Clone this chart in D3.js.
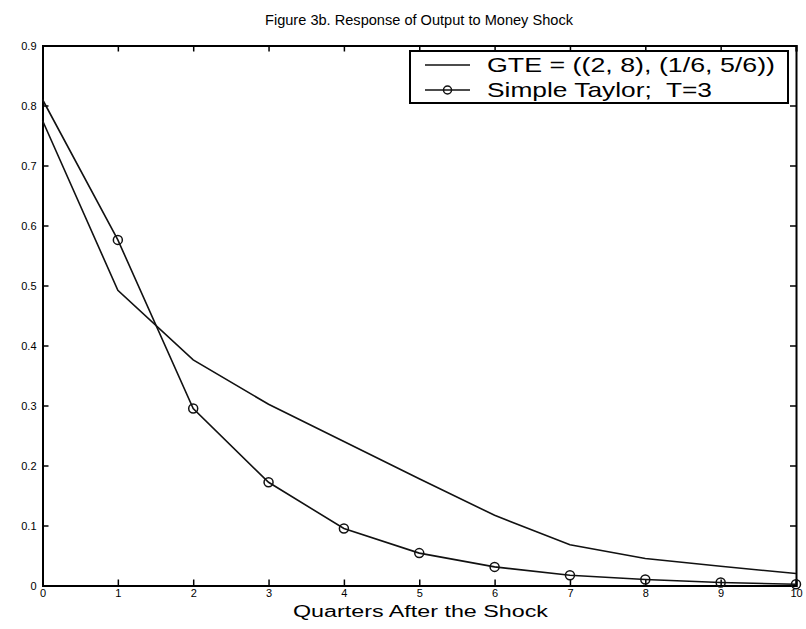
<!DOCTYPE html>
<html>
<head>
<meta charset="utf-8">
<script src="https://cdn.jsdelivr.net/npm/d3@7"></script>
<style>
  body { margin: 0; background: #fff; }
  svg text { font-family: "Liberation Sans", Arial, sans-serif; fill: #000; white-space: pre; }
</style>
</head>
<body>
<svg id="chart" width="806" height="629"></svg>
<script>
// quarters after the shock
var quarters = [0, 1, 2, 3, 4, 5, 6, 7, 8, 9, 10]
// GTE = ((2, 8), (1/6, 5/6))
var gteVals = [0.775, 0.492, 0.376, 0.302, 0.240, 0.178, 0.117, 0.068, 0.045, 0.032, 0.020]
// Simple Taylor; T=3
var taylorVals = [0.810, 0.576, 0.295, 0.172, 0.095, 0.054, 0.031, 0.017, 0.010, 0.005, 0.002]
var yTicks = [0, 0.1, 0.2, 0.3, 0.4, 0.5, 0.6, 0.7, 0.8, 0.9]
var legendLabels = ["GTE = ((2, 8), (1/6, 5/6))", "Simple Taylor;  T=3"]
var legendWidths = [288, 225]

var pLeft = 42.5, pRight = 796, pTop = 45.5, pBottom = 585.5

var svg = d3.select("#chart")

var x = d3.scaleLinear().domain([0, 10]).range([pLeft, pRight])
var y = d3.scaleLinear().domain([0, 0.9]).range([pBottom, pTop])

// title
svg.append("text")
    .attr("x", 265)
    .attr("y", 25)
    .attr("textLength", 308)
    .attr("lengthAdjust", "spacingAndGlyphs")
    .style("font-size", "15px")
    .text("Figure 3b. Response of Output to Money Shock")

// axes (ticks inward, box all round)
var tickFmt = function(d) { return d === 0 ? "0" : d3.format(".1f")(d) }
svg.append("g")
    .attr("transform", "translate(0," + pBottom + ")")
    .call(d3.axisBottom(x).tickValues(quarters).tickSize(-6).tickPadding(4).tickFormat(d3.format("d")))
svg.append("g")
    .attr("transform", "translate(0," + pTop + ")")
    .call(d3.axisTop(x).tickValues(quarters).tickSize(-6).tickFormat(""))
svg.append("g")
    .attr("transform", "translate(" + pLeft + ",0)")
    .call(d3.axisLeft(y).tickValues(yTicks).tickSize(-6).tickPadding(6).tickFormat(tickFmt))
svg.append("g")
    .attr("transform", "translate(" + pRight + ",0)")
    .call(d3.axisRight(y).tickValues(yTicks).tickSize(-6).tickFormat(""))

svg.selectAll(".domain").attr("stroke", "#000").attr("stroke-width", 2)
svg.selectAll(".tick line").attr("stroke", "#000").attr("stroke-width", 1.5)
svg.selectAll(".tick text").style("font-size", "11px").style("font-family", "\"Liberation Sans\", Arial, sans-serif")

// x axis label
svg.append("text")
    .attr("x", 293)
    .attr("y", 617)
    .attr("textLength", 255)
    .attr("lengthAdjust", "spacingAndGlyphs")
    .style("font-size", "16px")
    .text("Quarters After the Shock")

var line = d3.line()
    .x(function(d) { return x(d[0]) })
    .y(function(d) { return y(d[1]) })

var gteData = d3.zip(quarters, gteVals)
var taylorData = d3.zip(quarters, taylorVals)

svg.append("path")
    .datum(gteData)
    .attr("d", line)
    .attr("fill", "none")
    .attr("stroke", "#111")
    .attr("stroke-width", 1.6)

svg.append("path")
    .datum(taylorData)
    .attr("d", line)
    .attr("fill", "none")
    .attr("stroke", "#111")
    .attr("stroke-width", 1.6)

svg.append("g").selectAll("circle")
    .data(taylorData.filter(function(d) { return d[0] > 0 }))
    .enter().append("circle")
    .attr("cx", function(d) { return x(d[0]) })
    .attr("cy", function(d) { return y(d[1]) })
    .attr("r", 4.5)
    .attr("fill", "none")
    .attr("stroke", "#111")
    .attr("stroke-width", 1.5)

// legend
var lg = svg.append("g").attr("transform", "translate(410,51)")
lg.append("rect")
    .attr("width", 378).attr("height", 52)
    .attr("fill", "#fff").attr("stroke", "#000").attr("stroke-width", 2)
legendLabels.forEach(function(lbl, i) {
    var ly = 14 + i * 25
    lg.append("line")
        .attr("x1", 15).attr("x2", 60).attr("y1", ly).attr("y2", ly)
        .attr("stroke", "#111").attr("stroke-width", 1.6)
    if (i === 1) {
        lg.append("circle").attr("cx", 37.5).attr("cy", ly).attr("r", 4)
            .attr("fill", "none").attr("stroke", "#111").attr("stroke-width", 1.5)
    }
    lg.append("text")
        .attr("x", 77).attr("y", ly + 7)
        .attr("textLength", legendWidths[i])
        .attr("lengthAdjust", "spacingAndGlyphs")
        .style("font-size", "21px")
        .text(lbl)
})
</script>
</body>
</html>
